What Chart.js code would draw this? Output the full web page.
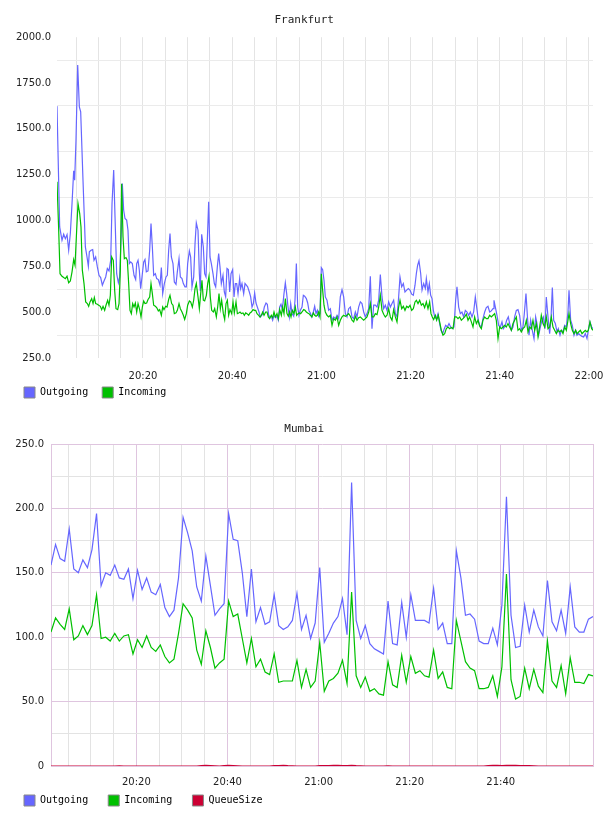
<!DOCTYPE html>
<html>
<head>
<meta charset="utf-8">
<script src="https://cdn.jsdelivr.net/npm/chart.js@4/dist/chart.umd.min.js"></script>
<style>
html,body{margin:0;padding:0;background:#fff;overflow:hidden;width:608px;height:816px}
canvas{position:absolute;left:0}
#c1{top:0}
#c2{top:410px}
</style>
</head>
<body>
<canvas id="c1" width="608" height="408"></canvas>
<canvas id="c2" width="608" height="406"></canvas>
<script>
// ---------- DATA ----------
const seriesNames = ['Outgoing', 'Incoming', 'QueueSize'];
const chartTitles = ['Frankfurt', 'Mumbai'];

// Frankfurt: sample times in minutes after 20:00, and values
const frankfurtOutgoingTime = [0.72,1.32,1.84,2.22,2.59,2.97,3.34,3.71,4.09,4.46,4.68,4.98,5.36,5.73,6.03,6.55,7.08,7.45,7.75,7.97,8.35,8.72,9.02,9.39,9.77,10.14,10.51,10.89,11.26,11.64,12.01,12.38,12.76,13.06,13.43,13.73,14.10,14.48,14.77,15.15,15.37,15.67,15.97,16.34,16.64,16.94,17.24,17.61,17.99,18.36,18.59,18.89,19.18,19.48,19.78,20.16,20.45,20.75,21.13,21.50,21.80,22.10,22.40,22.77,23.07,23.44,23.82,24.12,24.42,24.79,25.16,25.46,25.76,26.06,26.36,26.73,27.03,27.41,27.70,28.08,28.38,28.75,29.05,29.42,29.72,30.02,30.40,30.69,30.99,31.37,31.67,31.96,32.34,32.64,32.86,33.16,33.53,33.83,34.13,34.43,34.73,35.03,35.33,35.70,36.00,36.30,36.67,36.97,37.27,37.57,37.94,38.24,38.54,38.84,39.14,39.44,39.74,40.11,40.41,40.71,41.01,41.31,41.68,41.90,42.20,42.58,42.88,43.18,43.47,43.85,44.15,44.45,44.75,45.04,45.34,45.64,46.02,46.32,46.61,46.91,47.21,47.59,47.88,48.18,48.48,48.78,49.08,49.38,49.68,50.05,50.35,50.65,50.95,51.25,51.62,51.92,52.22,52.52,52.82,53.12,53.42,53.79,54.09,54.39,54.69,54.98,55.28,55.66,55.96,56.26,56.63,56.93,57.23,57.53,57.82,58.20,58.50,58.80,59.10,59.39,59.69,59.99,60.29,60.59,
60.89,61.26,61.64,62.01,62.39,62.76,63.13,63.51,63.88,64.25,64.63,65.00,65.38,65.75,66.12,66.50,66.87,67.24,67.62,67.99,68.36,68.74,69.11,69.49,69.86,70.23,70.61,70.98,71.35,71.73,72.10,72.48,72.85,73.22,73.60,73.97,74.34,74.72,75.09,75.47,75.84,76.21,76.59,76.96,77.33,77.63,78.01,78.38,78.75,79.13,79.50,79.88,80.25,80.62,81.00,81.30,81.59,81.89,82.27,82.57,82.94,83.31,83.54,83.91,84.21,84.51,84.81,85.11,85.41,85.78,86.15,86.45,86.83,87.20,87.57,87.87,88.25,88.62,88.99,89.37,89.74,90.11,90.41,90.79,91.16,91.53,91.91,92.28,92.66,93.03,93.40,93.78,94.15,94.52,94.82,95.20,95.50,95.87,96.24,96.62,96.99,97.36,97.74,98.11,98.49,98.71,99.08,99.38,99.76,100.13,100.50,100.80,101.18,101.55,101.92,102.22,102.60,102.97,103.34,103.72,104.09,104.46,104.84,105.21,105.51,105.88,106.26,106.56,106.93,107.30,107.68,108.05,108.35,108.72,109.10,109.47,109.77,110.14,110.44,110.82,111.19,111.49,111.79,112.09,112.46,112.84,113.13,113.51,113.81,114.18,114.55,114.93,115.30,115.53,115.90,116.27,116.65,117.02,117.32,117.69,118.07,118.44,118.81,119.19,119.56,119.86,120.23,120.61,120.91];
const frankfurtOutgoing = [1624,965,892,925,901,923,838,929,1093,1271,1220,1438,1848,1620,1593,1220,856,801,750,829,838,841,783,801,747,701,689,647,670,692,738,725,783,1093,1275,1020,710,660,692,947,1202,1056,1011,1002,947,765,774,765,701,678,765,783,729,628,692,774,787,720,725,838,983,856,701,710,683,678,647,743,601,656,692,701,838,929,801,765,665,652,720,792,692,683,656,638,638,765,834,801,638,692,874,987,947,710,616,925,856,710,692,892,1102,801,765,710,656,638,747,820,747,656,701,610,583,738,732,610,710,732,583,656,656,601,683,628,656,601,656,647,638,610,583,528,547,605,550,528,501,474,483,492,528,550,543,483,474,478,456,483,470,478,456,528,543,514,601,660,601,528,474,547,492,478,565,765,528,483,510,528,592,587,574,550,507,496,474,501,532,492,510,478,492,743,732,674,
583,565,510,519,456,474,465,483,465,583,623,583,492,474,519,528,474,465,501,474,528,556,547,501,474,492,519,696,410,538,538,528,565,705,583,519,538,510,556,528,547,565,492,474,583,692,638,656,610,620,629,620,598,592,647,711,756,780,711,620,656,629,683,610,656,592,574,510,474,465,492,447,401,383,410,428,419,438,419,410,419,565,638,528,492,501,474,510,501,483,501,474,501,583,528,456,428,419,465,501,525,532,501,507,519,565,519,483,428,419,447,410,423,456,474,438,401,419,474,510,514,483,401,419,492,601,456,374,456,401,356,474,438,374,419,456,474,410,583,474,383,465,634,456,438,392,410,374,401,392,428,419,501,620,456,428,374,401,374,383,374,368,365,383,356,401,447,419,410];
const frankfurtIncomingTime = [0.72,1.10,1.40,1.84,2.22,2.59,2.97,3.34,3.71,4.09,4.46,4.76,5.13,5.43,5.81,6.10,6.40,6.78,7.15,7.52,7.82,8.12,8.50,8.80,9.09,9.39,9.77,10.07,10.44,10.74,11.04,11.41,11.71,12.08,12.38,12.68,12.98,13.35,13.65,13.95,14.33,14.63,14.92,15.22,15.52,15.82,16.19,16.49,16.79,17.09,17.39,17.69,17.99,18.29,18.59,18.89,19.26,19.56,19.86,20.16,20.45,20.83,21.13,21.50,21.80,22.10,22.40,22.77,23.07,23.44,23.74,24.12,24.42,24.71,25.09,25.39,25.76,26.06,26.43,26.73,27.03,27.41,27.70,28.08,28.38,28.75,29.05,29.35,29.72,30.02,30.40,30.69,31.07,31.37,31.67,31.96,32.34,32.64,32.94,33.23,33.53,33.83,34.21,34.51,34.80,35.10,35.40,35.78,36.08,36.45,36.75,37.05,37.35,37.64,38.02,38.32,38.62,38.92,39.21,39.51,39.89,40.19,40.48,40.86,41.16,41.46,41.76,42.05,42.43,42.73,43.03,43.33,43.70,44.00,44.30,44.67,44.97,45.27,45.57,45.94,46.24,46.54,46.84,47.14,47.51,47.81,48.11,48.41,48.78,49.08,49.38,49.68,50.05,50.35,50.65,51.02,51.32,51.62,51.92,52.29,52.59,52.89,53.19,53.49,53.86,54.16,54.46,54.76,55.06,55.36,55.66,56.03,56.33,56.63,56.93,57.23,57.53,57.90,58.20,58.50,58.80,59.10,59.39,59.69,59.99,60.29,60.59,
60.89,61.26,61.64,62.01,62.39,62.76,63.13,63.51,63.88,64.25,64.63,65.00,65.38,65.75,66.12,66.50,66.87,67.24,67.62,67.99,68.36,68.74,69.11,69.49,69.86,70.23,70.61,70.98,71.35,71.73,72.10,72.48,72.85,73.22,73.60,73.97,74.34,74.72,75.09,75.47,75.84,76.21,76.59,76.96,77.33,77.63,78.01,78.38,78.75,79.13,79.50,79.88,80.25,80.62,81.00,81.30,81.67,82.04,82.42,82.79,83.16,83.54,83.91,84.28,84.58,84.88,85.18,85.56,85.85,86.23,86.60,86.90,87.27,87.65,88.02,88.40,88.77,89.14,89.52,89.89,90.26,90.64,91.01,91.39,91.76,92.13,92.51,92.88,93.25,93.63,94.00,94.37,94.75,95.12,95.50,95.87,96.24,96.62,96.99,97.36,97.74,98.11,98.49,98.86,99.23,99.61,99.98,100.35,100.73,101.10,101.47,101.85,102.22,102.60,102.97,103.34,103.72,104.09,104.46,104.84,105.21,105.59,105.96,106.33,106.71,107.08,107.45,107.83,108.20,108.58,108.95,109.32,109.70,110.07,110.44,110.82,111.19,111.56,111.94,112.31,112.69,113.06,113.43,113.81,114.18,114.55,114.93,115.30,115.53,115.90,116.27,116.65,117.02,117.32,117.69,118.07,118.44,118.81,119.19,119.56,119.86,120.23,120.61,120.91];
const frankfurtIncoming = [1211,947,710,696,689,683,696,660,670,720,787,756,947,1093,1038,965,729,656,556,547,532,556,574,547,580,547,543,538,532,514,532,510,538,565,538,592,801,783,620,519,514,547,729,1200,911,792,798,783,656,510,492,547,528,550,501,547,514,474,528,561,547,550,569,583,656,601,538,532,525,507,514,483,528,514,532,528,569,592,547,538,492,496,510,547,519,501,483,460,492,538,561,556,528,565,628,656,583,519,601,674,565,561,592,656,696,583,510,501,519,474,528,601,519,565,492,460,547,565,483,514,492,556,496,556,492,496,501,492,496,483,496,492,483,496,501,514,510,510,492,483,474,483,501,483,501,501,474,465,483,470,501,474,492,465,514,483,528,492,574,492,478,501,474,510,492,528,483,492,496,492,501,514,510,501,496,492,483,474,496,483,478,483,501,474,710,620,538,
501,483,474,483,428,465,456,474,428,456,474,483,478,483,492,478,456,447,478,456,470,474,465,456,465,474,501,547,474,474,492,487,528,592,510,489,474,483,519,474,456,514,474,447,528,565,519,532,510,532,525,538,510,519,556,565,547,565,538,547,525,556,519,556,492,474,460,483,456,483,438,401,374,383,410,419,410,416,410,474,474,465,474,456,465,474,489,456,474,447,419,474,438,456,423,410,456,474,465,465,483,474,483,492,456,356,419,410,419,428,419,438,419,401,438,456,474,401,410,392,410,419,456,392,419,410,456,401,438,365,419,483,438,419,474,410,419,474,419,401,383,401,392,401,383,419,401,456,492,438,401,383,401,383,392,401,383,392,401,392,401,447,410,401];

// Mumbai: one sample per minute, first sample at 20:01:15
const mumbaiFirstMinute = 1.25;
const mumbaiStepMinutes = 1;
const mumbaiOutgoing = [156,172,161,159,184,153,150,160,154,168,196,140,150,148,156,146,145,153,130,152,137,146,135,133,141,123,116,121,146,193,181,167,139,128,163,140,117,122,126,196,176,175,150,116,153,112,123,110,112,133,109,106,108,113,134,106,117,99,111,154,96,103,111,116,130,102,220,113,99,109,95,91,89,87,128,95,94,127,100,133,113,113,113,111,138,106,111,95,95,167,146,117,118,114,97,95,95,107,94,125,209,117,92,93,125,104,121,108,101,144,112,105,121,103,139,108,104,104,114,116];
const mumbaiIncoming = [104,115,110,106,122,98,101,109,102,109,133,99,100,97,103,97,101,102,87,98,92,101,92,89,94,85,80,83,103,126,121,115,90,79,105,92,76,80,83,128,116,118,99,80,99,77,83,73,71,87,65,66,66,66,82,61,75,61,66,96,58,66,68,72,82,64,135,70,61,69,58,60,56,55,81,63,61,86,65,85,72,74,70,69,90,68,73,61,60,113,97,81,76,74,60,60,61,70,54,77,149,67,52,54,76,60,75,62,57,97,66,61,78,56,84,65,65,64,71,70];
const mumbaiQueueSize = [0,0,0,0,0,0,0,0,0,0, 0,0,0,0,0,0.2,0,0,0,0, 0,0,0,0,0,0,0,0,0,0, 0,0,0,0.3,0.5,0.4,0.2,0,0.3,0.6, 0.4,0.2,0,0,0,0,0,0,0,0.3, 0.4,0.5,0.3,0.2,0,0,0,0,0,0.3, 0.4,0.3,0.5,0.6,0.4,0.3,0.5,0.3,0.2,0, 0,0,0,0,0.2,0,0,0,0,0, 0,0,0,0,0,0,0,0,0,0, 0,0,0,0,0,0,0.3,0.5,0.6,0.4, 0.5,0.6,0.5,0.4,0.4,0.3,0.2,0,0,0, 0,0,0,0,0,0,0,0,0,0];

// Ticks (minutes after 20:00 on the time axis)
const timeGridMinutes = [5,10,15,20,25,30,35,40,45,50,55,60,65,70,75,80,85,90,95,100,105,110,115,120];
const timeLabelMinutes = [20,40,60,80,100,120];
const timeTickLabels = ['20:20','20:40','21:00','21:20','21:40','22:00'];
const frankfurtYTicks = [250,375,500,625,750,875,1000,1125,1250,1375,1500,1625,1750,1875,2000];
const mumbaiYTicks = [0,25,50,75,100,125,150,175,200,225,250];

// ---------- HELPERS ----------
const COL = {out:'#6666ff', inc:'#00c000', q:'#cc0033'};
const PINK = '#dfc5df';
function pairPoints(times, values) {
  return values.map((v, i) => ({x: times[i], y: v}));
}
function stepPoints(values, start, step) {
  return values.map((v, i) => ({x: start + i * step, y: v}));
}
function timeLabel(v) {
  const k = timeLabelMinutes.indexOf(v);
  return k >= 0 ? timeTickLabels[k] : '';
}
function ds(label, data, color, order) {
  return {label, data, borderColor: color, backgroundColor: color, borderWidth: 1.2,
          pointRadius: 0, tension: 0, fill: false, order};
}
// let the y tick labels use the space left of the axis box (no clipping)
const labelRoom = {id: 'labelRoom', afterLayout(chart) { chart.scales.y.left = 0; }};

function build(canvasId, o) {
  return new Chart(document.getElementById(canvasId), {
    type: 'line',
    data: {datasets: o.datasets},
    plugins: [labelRoom],
    options: {
      responsive: false, animation: false, devicePixelRatio: 1,
      layout: {padding: {left: 22, right: 15, top: 0, bottom: 0}},
      plugins: {
        tooltip: {enabled: false},
        title: {display: true, text: o.title + ' ', color: '#222',
                font: {family: 'DejaVu Sans Mono', size: 11, weight: 'normal'},
                padding: o.titlePad},
        legend: {display: true, position: 'bottom', align: 'start',
          labels: {boxWidth: 11, boxHeight: 11, padding: 2, color: '#000',
            font: {family: 'DejaVu Sans Mono', size: 10},
            generateLabels: (ch) => ch.data.datasets.map((d, i) => ({
              text: d.label + ' '.repeat(o.legendGap), fillStyle: d.borderColor, strokeStyle: '#888',
              lineWidth: 1, hidden: false, datasetIndex: i}))
          }}
      },
      scales: {
        x: {
          type: 'linear', min: o.xmin, max: o.xmax,
          afterBuildTicks: s => { s.ticks = o.xTicks.map(v => ({value: v})); },
          afterFit: s => { s.height = 27; s.paddingLeft = 0; s.paddingRight = 0; },
          grid: {drawTicks: false, lineWidth: 1,
                 color: c => o.xGrid(c.tick ? c.tick.value : 0)},
          border: {display: o.frame, color: PINK, width: 1},
          ticks: {autoSkip: false, maxRotation: 0, minRotation: 0, padding: o.xPad,
                  color: '#222', font: {family: 'DejaVu Sans', size: 10},
                  callback: v => timeLabel(v)}
        },
        y: {
          type: 'linear', min: o.ymin, max: o.ymax,
          afterBuildTicks: s => { s.ticks = o.yTicks.map(v => ({value: v})); },
          afterFit: s => { s.width = o.yWidth; s.paddingTop = 0; s.paddingBottom = 0; },
          grid: {drawTicks: false, lineWidth: 1,
                 color: c => o.yGrid(c.tick ? c.tick.value : 0)},
          border: {display: o.frame, color: PINK, width: 1},
          ticks: {autoSkip: false, padding: o.yPad, color: '#222',
                  font: {family: 'DejaVu Sans', size: 10},
                  callback: v => o.yLabel(v)}
        }
      }
    }
  });
}

// ---------- FRANKFURT ----------
build('c1', {
  title: chartTitles[0],
  titlePad: {top: 14, bottom: 10},
  legendGap: 2,
  datasets: [
    ds(seriesNames[0], pairPoints(frankfurtOutgoingTime, frankfurtOutgoing), COL.out, 1),
    ds(seriesNames[1], pairPoints(frankfurtIncomingTime, frankfurtIncoming), COL.inc, 0)
  ],
  xmin: frankfurtOutgoingTime[0], xmax: frankfurtOutgoingTime[frankfurtOutgoingTime.length - 1],
  xTicks: timeGridMinutes,
  xGrid: v => '#e4e4e4', xPad: 12, frame: false,
  ymin: 250, ymax: 2000, yTicks: frankfurtYTicks, yWidth: 35, yPad: 6,
  yGrid: v => (v % 250 === 0 ? 'rgba(0,0,0,0)' : '#ebebeb'),
  yLabel: v => (v % 250 === 0 ? v.toFixed(1) : '')
});

// ---------- MUMBAI ----------
const mumbaiLast = mumbaiFirstMinute + (mumbaiOutgoing.length - 1) * mumbaiStepMinutes;
build('c2', {
  title: chartTitles[1],
  titlePad: {top: 12.5, bottom: 8.3},
  legendGap: 3,
  datasets: [
    ds(seriesNames[0], stepPoints(mumbaiOutgoing, mumbaiFirstMinute, mumbaiStepMinutes), COL.out, 2),
    ds(seriesNames[1], stepPoints(mumbaiIncoming, mumbaiFirstMinute, mumbaiStepMinutes), COL.inc, 1),
    ds(seriesNames[2], stepPoints(mumbaiQueueSize, mumbaiFirstMinute, mumbaiStepMinutes), COL.q, 0)
  ],
  xmin: mumbaiFirstMinute, xmax: mumbaiLast,
  xTicks: timeGridMinutes.filter(v => v < mumbaiLast - 1).concat([mumbaiLast]),
  xGrid: v => ((v % 20 === 0 || v === mumbaiLast) ? PINK : '#e3e3e3'), xPad: 10, frame: true,
  ymin: 0, ymax: 250, yTicks: mumbaiYTicks, yWidth: 29, yPad: 7,
  yGrid: v => (v % 50 === 0 ? PINK : '#e3e3e3'),
  yLabel: v => (v % 50 === 0 ? (v === 0 ? '0' : v.toFixed(1)) : '')
});
</script>
</body>
</html>
